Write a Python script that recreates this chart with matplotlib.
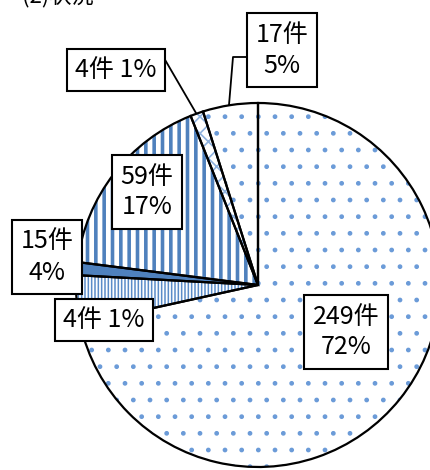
import matplotlib.pyplot as plt

plt.rcParams['font.family'] = ['Noto Sans CJK JP', 'DejaVu Sans']

W, H = 431, 470

# data (clockwise from 12 o'clock)
counts = [249, 15, 4, 59, 4, 17]
percents = ['72%', '4%', '1%', '17%', '1%', '5%']
title = '(2)状況'

# styles per slice
faces = ['white', 'white', '#4f81bd', 'white', 'white', 'white']
hatch_cols = ['#6b9bd8', '#5b8cc8', '#4f81bd', '#4f81bd', '#8fb2de', '#6b9bd8']
hatches = ['.', '|||||', None, '||', 'xx', '.']
hatch_lw = [1.0, 1.1, 1.0, 2.6, 1.2, 1.0]

# label box centres in pixel coords (x, y from top), and layout
label_pos = [(346, 332), (47, 257), (104, 320), (147, 192), (116, 70), (282, 50)]
one_line = [False, False, True, False, True, False]

fig = plt.figure(figsize=(W / 100, H / 100), dpi=100)
ax = fig.add_axes([0, 0, 1, 1])

center = (258, H - 285)
radius = 182

wedges, _ = ax.pie(counts, startangle=90, counterclock=False,
                   center=center, radius=radius, colors=faces,
                   wedgeprops=dict(linewidth=0))
for w, hc, h, lw in zip(wedges, hatch_cols, hatches, hatch_lw):
    w.set_edgecolor(hc)
    if h:
        w.set_hatch(h)
        if hasattr(w, 'set_hatch_linewidth'):
            w.set_hatch_linewidth(lw)

ax.pie(counts, startangle=90, counterclock=False, center=center, radius=radius,
       wedgeprops=dict(fill=False, edgecolor='black', linewidth=1.6))

ax.set_xlim(0, W)
ax.set_ylim(0, H)
ax.set_aspect('equal')
ax.axis('off')


def px(x, y):
    return x, H - y


# leader lines
xs, ys = zip(px(164, 58), px(196, 113))
ax.plot(xs, ys, color='black', lw=1.3)
xs, ys = zip(px(246, 57), px(233, 57), px(229, 105))
ax.plot(xs, ys, color='black', lw=1.3)

for (x, y), n, p, single in zip(label_pos, counts, percents, one_line):
    txt = f'{n}件 {p}' if single else f'{n}件\n{p}'
    ax.text(x, H - y, txt, ha='center', va='center', fontsize=18,
            linespacing=1.25, color='black',
            bbox=dict(boxstyle='square,pad=0.33', facecolor='white',
                      edgecolor='black', linewidth=1.5))

fig.text(22 / W, 1 + 4 / H, title, ha='left', va='center', fontsize=16)

fig.savefig('out.png', dpi=100)
